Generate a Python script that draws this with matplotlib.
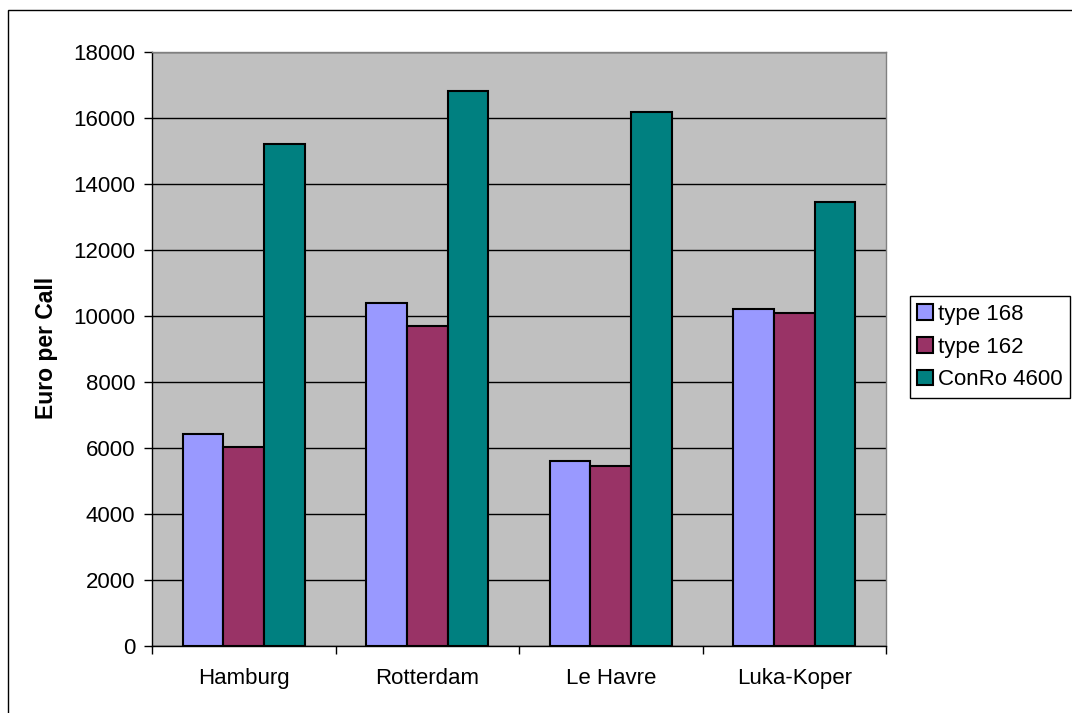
import matplotlib
matplotlib.use("Agg")
import matplotlib.pyplot as plt
import numpy as np
from matplotlib.patches import Rectangle

plt.rcParams['font.family'] = ['Liberation Sans', 'DejaVu Sans']

categories = ["Hamburg", "Rotterdam", "Le Havre", "Luka-Koper"]
series_names = ["type 168", "type 162", "ConRo 4600"]
type168 = [6400, 10370, 5590, 10200]
type162 = [6020, 9690, 5440, 10070]
conro4600 = [15200, 16800, 16180, 13430]
colors = ["#9999FF", "#993366", "#008080"]
y_ticks = [0, 2000, 4000, 6000, 8000, 10000, 12000, 14000, 16000, 18000]

fig = plt.figure(figsize=(10.72, 7.13), dpi=100)
fig.patch.set_facecolor("white")
# outer chart border (right and bottom edges fall outside the image)
fig.add_artist(Rectangle((8/1072, 1-730/713), 1100/1072, 720/713,
                         transform=fig.transFigure, fill=False, edgecolor="black", linewidth=1.0))

ax = fig.add_axes([152/1072, 1-645.5/713, (886-152)/1072, (645.5-51.5)/713])
ax.set_facecolor("#C0C0C0")

x = np.arange(len(categories))
w = 1/4.5
data = [type168, type162, conro4600]
for i, (vals, c, name) in enumerate(zip(data, colors, series_names)):
    ax.bar(x + (i-1)*w, vals, width=w, color=c, edgecolor="black", linewidth=1.5,
           label=name, zorder=3)

ax.set_xlim(-0.5, len(categories)-0.5)
ax.set_ylim(0, 18000)
ax.set_yticks(y_ticks)
ax.set_yticklabels([str(t) for t in y_ticks], fontsize=16)
ax.yaxis.grid(True, color="black", linewidth=1.0, zorder=1)
ax.set_axisbelow(True)

ax.set_xticks(x)
ax.set_xticklabels(categories, fontsize=16)
ax.set_xticks(np.arange(-0.5, len(categories)), minor=True)
ax.tick_params(axis='x', which='major', length=0, pad=16)
ax.tick_params(axis='x', which='minor', length=6, direction='out', width=1)
ax.tick_params(axis='y', length=6, direction='out', width=1, pad=6)

for s in ["top", "right"]:
    ax.spines[s].set_color("#808080")
    ax.spines[s].set_linewidth(1.0)
for s in ["left", "bottom"]:
    ax.spines[s].set_color("black")
    ax.spines[s].set_linewidth(1.0)

fig.text(46/1072, 1-347.5/713, "Euro per Call", rotation=90, fontsize=16.5, fontweight="bold",
         ha="center", va="center")

leg = ax.legend(loc="upper left", bbox_to_anchor=(909.5/1072, 1-296/713),
                bbox_transform=fig.transFigure, fontsize=16, frameon=True, fancybox=False,
                edgecolor="black", framealpha=1, borderpad=0.35, handlelength=0.72,
                handleheight=0.72, handletextpad=0.2, labelspacing=0.53, borderaxespad=0)
leg.get_frame().set_linewidth(1.0)

fig.savefig("out.png", dpi=100)
